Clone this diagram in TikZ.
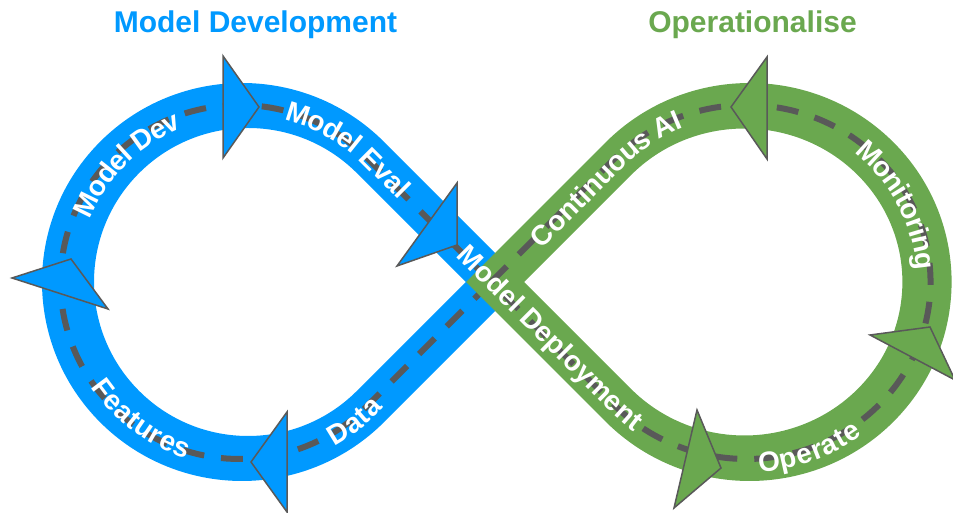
\documentclass[tikz,border=0pt]{standalone}
\usepackage{fontspec}
\setmainfont{Liberation Sans}
\usepackage{tikz}
\usetikzlibrary{decorations.text}
\definecolor{devblue}{RGB}{0,153,255}
\definecolor{opsgreen}{RGB}{106,168,79}
\definecolor{dashgrey}{RGB}{89,89,89}
\newcommand{\lblfont}{\fontsize{28}{28}\selectfont\bfseries}
\begin{document}
\begin{tikzpicture}[x=1pt, y=1pt,
		flowdash/.style={dashgrey, line width=6pt, dash pattern=on 22pt off 17pt},
		arrowtri/.style={draw=dashgrey, line width=1.5pt, line join=miter, fill=#1},
		looplabel/.style={decorate, decoration={text along path, text color=white, text align=center, raise=-10pt, text={|\lblfont|#1}}},
		title/.style={font=\fontsize{30}{30}\selectfont\bfseries, text=#1, anchor=base}]
			\useasboundingbox (0, 0) rectangle (953, 513);
			%% left loop
			\fill[devblue, even odd rule] (524.14, 231) -- ([shift={(242, 231)}]44.86:200 and 199) arc[start angle=44.86, end angle=315.14, x radius=200, y radius=199] -- cycle
				(465.79, 231) -- ([shift={(248, 231)}]45:154) arc[start angle=45, end angle=315, radius=154] -- cycle;
			\draw[flowdash] (491.23, 231) -- ([shift={(239.5, 231)}]44.68:179 and 177) arc[start angle=44.68, end angle=315.32, x radius=179, y radius=177] -- cycle;
			%% right loop
			\fill[opsgreen, even odd rule] (466.04, 231) -- ([shift={(749.6, 231)}]135.43:202 and 199) arc[start angle=135.43, end angle=-135.43, x radius=202, y radius=199] -- cycle
				(524.11, 231) -- ([shift={(744.4, 231)}]135.83:158 and 153.5) arc[start angle=135.83, end angle=-135.83, x radius=158, y radius=153.5] -- cycle;
			\draw[flowdash] (491.23, 231) -- ([shift={(746.54, 231)}]136.11:184 and 177) arc[start angle=136.11, end angle=-136.11, x radius=184, y radius=177] -- cycle;
			%%
			\draw[arrowtri=devblue] (223, 457) -- (223, 355) -- (259, 406) -- cycle;
			\draw[arrowtri=devblue] (457, 330) -- (457, 268) -- (397, 247) -- cycle;
			\draw[arrowtri=devblue] (71, 254) -- (108, 204) -- (12, 235) -- cycle;
			\draw[arrowtri=devblue] (287, 101) -- (287, 1) -- (251, 51) -- cycle;
			\draw[arrowtri=opsgreen] (767, 456) -- (767, 354) -- (731, 406) -- cycle;
			\draw[arrowtri=opsgreen] (697, 103) -- (721, 45) -- (674, 5) -- cycle;
			\draw[arrowtri=opsgreen] (870, 178) -- (930, 186) -- (955, 133) -- cycle;
			%% labels
			\path[looplabel={Model Dev}] ([shift={(245, 231)}]165:177 and 176.5) arc[start angle=165, end angle=105, x radius=177, y radius=176.5];
			\path[looplabel={Model Eval}] ([shift={(245, 231)}]80:177 and 176.5) arc[start angle=80, end angle=44.92, x radius=177, y radius=176.5] -- ++(-45:62);
			\path[looplabel={Data}] ([shift={(245, 231)}]-70:177 and 176.5) arc[start angle=-70, end angle=-44.92, x radius=177, y radius=176.5] -- ++(45:34);
			\path[looplabel={Features}] ([shift={(245, 231)}]205:177 and 176.5) arc[start angle=205, end angle=261, x radius=177, y radius=176.5];
			\path[looplabel={Continuous AI}] ([shift={(495, 231)}]45:50) -- ([shift={(747, 231)}]135.6:180 and 176.25) arc[start angle=135.6, end angle=110, x radius=180, y radius=176.25];
			\path[looplabel={Model Deployment}] ([shift={(495, 231)}]135:50) -- ([shift={(747, 231)}]224.4:180 and 176.25) arc[start angle=224.4, end angle=235, x radius=180, y radius=176.25];
			\path[looplabel={Monitoring}] ([shift={(747, 231)}]55:180 and 176.25) arc[start angle=55, end angle=0, x radius=180, y radius=176.25];
			\path[looplabel={Operate}] ([shift={(747, 231)}]-90:184 and 180.25) arc[start angle=-90, end angle=-50, x radius=184, y radius=180.25];
			%%
			\node[title=devblue] (devtitle) at (255.5, 480) {Model Development};
			\node[title=opsgreen] (opstitle) at (752.5, 480) {Operationalise};
		\end{tikzpicture}
\end{document}
